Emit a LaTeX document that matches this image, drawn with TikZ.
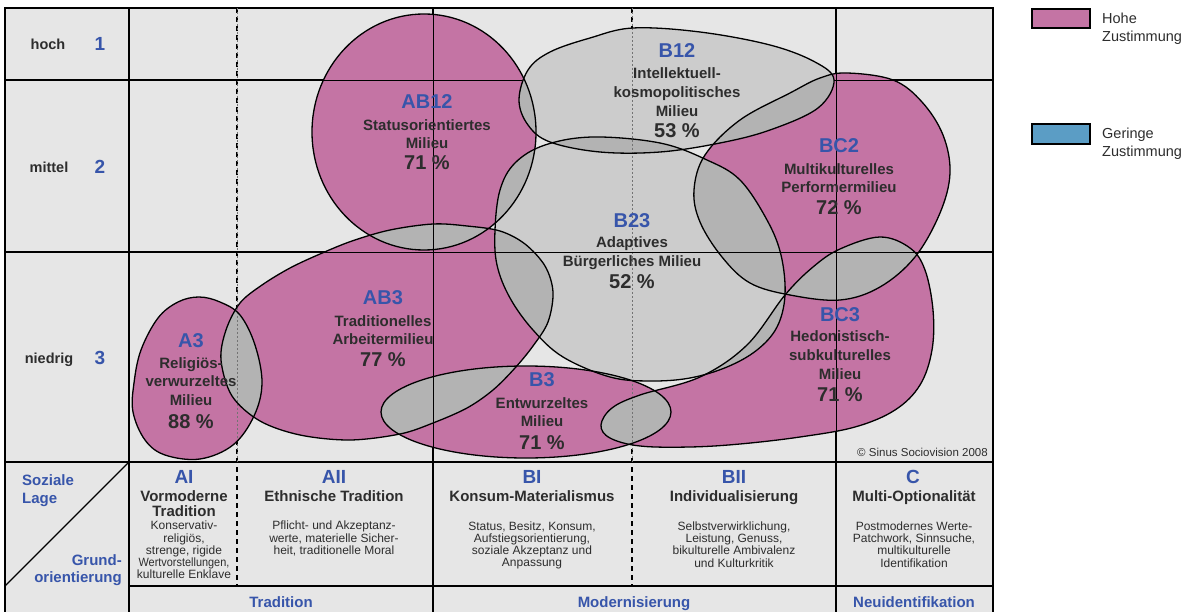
\documentclass[tikz,border=0pt]{standalone}
\usepackage{fontspec}
\setmainfont{Liberation Sans}
\definecolor{pinkf}{RGB}{196,116,164}
\definecolor{grayf}{RGB}{204,204,204}
\definecolor{ovl}{RGB}{179,179,179}
\definecolor{bgc}{RGB}{230,230,230}
\definecolor{blu}{RGB}{55,85,170}
\definecolor{txt}{RGB}{45,45,45}
\definecolor{legblue}{RGB}{91,157,197}
\newcommand\fs[2]{\fontsize{#1}{#2}\selectfont}
\def\shAiii{plot[smooth cycle,tension=0.6] coordinates {(199,297) (220,302) (240,315) (255,345) (262,383) (254,416) (233,445) (200,459) (165,455) (145,440) (133,412) (134,383) (141,350) (158,318) (178,302)}}
\def\shABiii{plot[smooth cycle,tension=0.55] coordinates {(433,224) (467,226) (500,231) (525,244) (545,266) (553,292) (548,322) (533,346) (515,368) (493,390) (467,408) (433,423) (400,434) (350,440) (300,435) (260,421) (232,396) (221,360) (226,330) (240,303) (262,285) (290,268) (320,254) (352,241) (390,230)}}
\def\shABxii{(424,132) ellipse [x radius=112pt, y radius=118pt]}
\def\shBxii{plot[smooth cycle,tension=0.6] coordinates {(519,100) (528,70) (550,52) (590,38) (633,28) (700,32) (770,45) (815,62) (834,80) (818,108) (770,130) (720,143) (660,152) (600,152) (550,142) (528,125)}}
\def\shBxxiii{plot[smooth cycle,tension=0.6] coordinates {(495,230) (500,190) (515,163) (545,145) (593,137) (660,143) (707,160) (740,180) (767,220) (781,255) (785,295) (777,327) (757,350) (727,367) (690,378) (650,381) (610,377) (563,357) (533,330) (510,298) (497,265)}}
\def\shBCii{plot[smooth cycle,tension=0.6] coordinates {(847,73) (893,80) (922,102) (943,135) (950,173) (940,213) (915,257) (880,287) (840,300) (790,295) (750,283) (722,257) (700,222) (694,190) (705,155) (740,120) (790,93) (820,78)}}
\def\shBCiii{plot[smooth cycle,tension=0.6] coordinates {(601,425) (612,408) (640,395) (700,377) (747,345) (785,295) (813,267) (840,249) (880,237) (910,248) (925,270) (933,310) (932,350) (920,385) (895,410) (855,427) (800,437) (740,444) (690,447) (640,446) (610,438)}}
\def\shBiii{(526,412) ellipse [x radius=145pt, y radius=46pt]}
\newcommand\ov[2]{\begin{scope}\clip #1; \fill[ovl] #2; \end{scope}}
\begin{document}
\begin{tikzpicture}[x=1pt,y=-1pt,
  grid/.style={line width=1.1pt,black},
  dashgrid/.style={line width=1.2pt,black,dash pattern=on 5pt off 4pt},
  ovline/.style={line width=0.8pt,black},
  thindash/.style={line width=0.5pt,black!55,dash pattern=on 2pt off 2pt},
  shapeline/.style={line width=1.3pt,black},
  code/.style={font=\fs{20}{22}\bfseries, text=blu, inner sep=0pt},
  bcode/.style={font=\fs{19}{20}\bfseries, text=blu, inner sep=0pt},
  nm/.style={font=\fs{15}{18.7}\bfseries, text=txt, align=center, inner sep=0pt},
  pct/.style={font=\fs{20}{22}\bfseries, text=txt, inner sep=0pt},
  small/.style={font=\fs{12}{12.2}, text=txt, align=center, inner sep=0pt},
  axis/.style={font=\fs{15}{18}\bfseries, text=blu, inner sep=0pt},
  rowlbl/.style={font=\fs{14.5}{16}\bfseries, text=txt, inner sep=0pt},
  rownum/.style={font=\fs{19}{20}\bfseries, text=blu, inner sep=0pt},
  leg/.style={font=\fs{14.5}{18}, text=txt, align=left, inner sep=0pt, anchor=west}]
\useasboundingbox (0,0) rectangle (1189,612);
% background
\fill[bgc] (5,8) rectangle (993,612);
% grid
\draw[grid] (5,612) -- (5,8) -- (993,8) -- (993,612);
\draw[grid] (5,80) -- (993,80);
\draw[grid] (5,252) -- (993,252);
\draw[grid] (5,462) -- (993,462);
\draw[grid] (129,586) -- (993,586);
\draw[grid] (129,8) -- (129,612);
\draw[grid] (433,8) -- (433,612);
\draw[grid] (836,8) -- (836,612);
\draw[grid] (129,462) -- (5,586);
\draw[dashgrid] (237,8) -- (237,586);
\draw[dashgrid] (632,8) -- (632,586);
% shape fills
\fill[pinkf] \shABxii;
\fill[grayf] \shBxii;
\fill[grayf] \shBxxiii;
\fill[pinkf] \shABiii;
\fill[pinkf] \shAiii;
\fill[pinkf] \shBCii;
\fill[pinkf] \shBCiii;
\fill[pinkf] \shBiii;
% overlaps
\ov{\shAiii}{\shABiii}
\ov{\shABiii}{\shBiii}
\ov{\shABiii}{\shBxxiii}
\ov{\shABiii}{\shABxii}
\ov{\shABxii}{\shBxxiii}
\ov{\shABxii}{\shBxii}
\ov{\shBxii}{\shBxxiii}
\ov{\shBxii}{\shBCii}
\ov{\shBxxiii}{\shBCii}
\ov{\shBxxiii}{\shBCiii}
\ov{\shBCii}{\shBCiii}
\ov{\shBiii}{\shBCiii}
\ov{\shBiii}{\shBxxiii}
% lines over shapes
\draw[thindash] (237,8) -- (237,462);
\draw[thindash] (632,8) -- (632,462);
\draw[ovline] (433,8) -- (433,462);
\draw[ovline] (836,8) -- (836,462);
\draw[ovline] (129,252) -- (993,252);
\draw[ovline] (129,80) -- (522,80);
\draw[ovline] (834,80) -- (993,80);
% outlines
\draw[shapeline] \shABxii;
\draw[shapeline] \shBxii;
\draw[shapeline] \shBxxiii;
\draw[shapeline] \shABiii;
\draw[shapeline] \shAiii;
\draw[shapeline] \shBCii;
\draw[shapeline] \shBCiii;
\draw[shapeline] \shBiii;
% row labels
\node[rowlbl] (hoch) at (48,44) {hoch};
\node[rownum] (n1) at (100,44) {1};
\node[rowlbl] (mittel) at (49,167) {mittel};
\node[rownum] (n2) at (100,167) {2};
\node[rowlbl, anchor=base] (niedrig) at (49,363) {niedrig};
\node[rownum] (n3) at (100,358) {3};
% milieu labels
\node[code] (cAB12) at (427,102) {AB12};
\node[nm] (tAB12) at (427,134) {Statusorientiertes\\Milieu};
\node[pct] (pAB12) at (427,163) {71 \%};
\node[code] (cB12) at (677,51) {B12};
\node[nm] (tB12) at (677,92) {Intellektuell-\\kosmopolitisches\\Milieu};
\node[pct] (pB12) at (677,131) {53 \%};
\node[code] (cBC2) at (839,146) {BC2};
\node[nm] (tBC2) at (839,178) {Multikulturelles\\Performermilieu};
\node[pct] (pBC2) at (839,208) {72 \%};
\node[code] (cB23) at (632,221) {B23};
\node[nm] (tB23) at (632,253) {Adaptives\\Bürgerliches Milieu};
\node[pct] (pB23) at (632,282) {52 \%};
\node[code] (cBC3) at (840,315) {BC3};
\node[nm] (tBC3) at (840,355) {Hedonistisch-\\subkulturelles\\Milieu};
\node[pct] (pBC3) at (840,395) {71 \%};
\node[code] (cAB3) at (383,298) {AB3};
\node[nm] (tAB3) at (383,330) {Traditionelles\\Arbeitermilieu};
\node[pct] (pAB3) at (383,360) {77 \%};
\node[code] (cA3) at (191,341) {A3};
\node[nm] (tA3) at (191,381.5) {Religiös-\\verwurzeltes\\Milieu};
\node[pct] (pA3) at (191,422) {88 \%};
\node[code] (cB3) at (542,380) {B3};
\node[nm] (tB3) at (542,412) {Entwurzeltes\\Milieu};
\node[pct] (pB3) at (542,443) {71 \%};
\node[font=\fs{11.5}{12}, text=txt, inner sep=0pt, anchor=east] (copy) at (988,452) {© Sinus Sociovision 2008};
% axis corner
\node[axis, align=left, anchor=west] (soz) at (22,491) {Soziale\\Lage};
\node[axis, align=right, anchor=east, font=\fs{15}{17}\bfseries] (grund) at (122,570) {Grund-\\orientierung};
% columns
\node[bcode] (cAI) at (184,477) {AI};
\node[nm, font=\fs{15}{15}\bfseries] (tAI) at (184,504) {Vormoderne\\Tradition};
\node[small] (dAI) at (184,550) {Konservativ-\\religiös,\\strenge, rigide\\\scalebox{0.91}[1]{Wertvorstellungen,}\\kulturelle Enklave};
\node[bcode] (cAII) at (334,477) {AII};
\node[nm, anchor=base] (tAII) at (334,501.5) {Ethnische Tradition};
\node[small] (dAII) at (334,538.5) {Pflicht- und Akzeptanz-\\werte, materielle Sicher-\\heit, traditionelle Moral};
\node[bcode] (cBI) at (532,477) {BI};
\node[nm, anchor=base] (tBI) at (532,501.5) {Konsum-Materialismus};
\node[small] (dBI) at (532,545.5) {Status, Besitz, Konsum,\\Aufstiegsorientierung,\\soziale Akzeptanz und\\Anpassung};
\node[bcode] (cBII) at (734,477) {BII};
\node[nm, anchor=base] (tBII) at (734,501.5) {Individualisierung};
\node[small] (dBII) at (734,544.5) {Selbstverwirklichung,\\Leistung, Genuss,\\bikulturelle Ambivalenz\\und Kulturkritik};
\node[bcode] (cC) at (913,477) {C};
\node[nm, anchor=base] (tC) at (914,501.5) {Multi-Optionalität};
\node[small] (dC) at (914,544.5) {Postmodernes Werte-\\Patchwork, Sinnsuche,\\multikulturelle\\Identifikation};
% bottom row
\node[axis, anchor=base] (trad) at (281,607.5) {Tradition};
\node[axis, anchor=base] (mod) at (634,607.5) {Modernisierung};
\node[axis, anchor=base] (neu) at (914,607.5) {Neuidentifikation};
% legend
\node[draw=black, line width=1.2pt, fill=pinkf, minimum width=58pt, minimum height=19pt, inner sep=0pt] (legH) at (1061,18.5) {};
\node[leg] (legHt) at (1102,28.5) {Hohe\\Zustimmung};
\node[draw=black, line width=1.2pt, fill=legblue, minimum width=58pt, minimum height=20pt, inner sep=0pt] (legG) at (1061,134) {};
\node[leg] (legGt) at (1102,143.5) {Geringe\\Zustimmung};
\end{tikzpicture}
\end{document}
